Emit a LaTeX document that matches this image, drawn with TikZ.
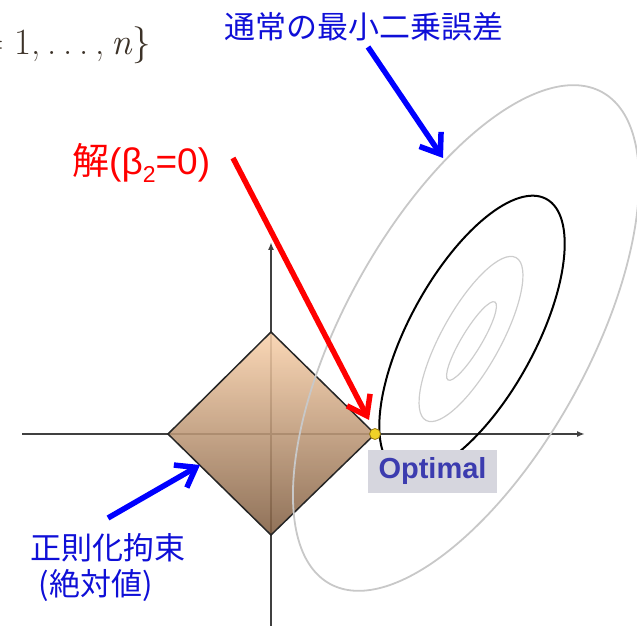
\documentclass[tikz,border=0pt]{standalone}
\usepackage{fontspec}
\newfontfamily\jp{Noto Sans CJK JP}
\newfontfamily\arialf{Liberation Sans}
\usetikzlibrary{arrows.meta}
\definecolor{dtop}{RGB}{250,210,172}
\definecolor{dbot}{RGB}{128,94,66}
\definecolor{lgray}{RGB}{200,200,200}
\definecolor{igray}{RGB}{205,205,205}
\definecolor{tblue}{RGB}{15,15,215}
\definecolor{optblue}{RGB}{60,60,175}
\definecolor{boxgray}{RGB}{214,214,222}
\definecolor{dotyel}{RGB}{240,210,40}
\definecolor{dotedge}{RGB}{150,120,20}
\definecolor{mathc}{RGB}{60,50,40}
\begin{document}
\begin{tikzpicture}[x=1pt,y=1pt,
  axisline/.style={draw=black!75, line width=1.6pt, -{Latex[length=8pt,width=6pt]}},
  diamondedge/.style={draw=black!85, line width=1.5pt, line join=miter},
  outerell/.style={draw=lgray, line width=1.8pt},
  innerell/.style={draw=igray, line width=1.2pt},
  blackell/.style={draw=black, line width=2pt},
  bigarrow/.style={line width=5.5pt, -{Straight Barb[length=18pt,width=26pt]}},
  jplabel/.style={font=\jp\fontsize{31}{36}\selectfont, text=tblue, inner sep=0pt},
]
\useasboundingbox (0,0) rectangle (637,626);
\clip (0,0) rectangle (637,626);

% top-left fragment of formula
\node[anchor=base east, inner sep=0pt, text=mathc] (idx) at (151,571)
  {\fontsize{37}{40}\selectfont =\hspace{0.28em}1,\hspace{0.18em}.\hspace{0.18em}.\hspace{0.18em}.\hspace{0.18em},\hspace{0.18em}\textit{n}\}};

% axes
\coordinate (xs) at (22,192);
\coordinate (xe) at (585,192);
\coordinate (ys) at (271,0);
\coordinate (ye) at (271,384);
\draw[axisline] (xs) -- (xe);
\draw[axisline] (ys) -- (ye);

% L1 diamond
\coordinate (dT) at (271,294);
\coordinate (dR) at (375,192);
\coordinate (dB) at (271,91);
\coordinate (dL) at (168,192);
\shade[top color=dtop, bottom color=dbot, fill opacity=0.88] (dT) -- (dR) -- (dB) -- (dL) -- cycle;
\draw[diamondedge] (dT) -- (dR) -- (dB) -- (dL) -- cycle;

% error contours
\draw[outerell, rotate around={61:(466,288)}] (466,288) ellipse [x radius=281, y radius=122];
\draw[innerell, rotate around={61:(471,287)}] (471,287) ellipse [x radius=93, y radius=29.5];
\draw[innerell, rotate around={59:(471.5,285)}] (471.5,285) ellipse [x radius=45.5, y radius=10];
\draw[blackell, rotate around={61.3:(472,291)}] (472,291) ellipse [x radius=155, y radius=63];

% Optimal label
\node[fill=boxgray, minimum width=129pt, minimum height=43pt, inner sep=0pt,
      font=\arialf\bfseries\fontsize{29}{30}\selectfont, text=optblue] (optlbl) at (432.5,154.5) {Optimal};

% optimum point
\node[circle, fill=dotyel, draw=dotedge, line width=0.8pt, minimum size=11pt, inner sep=0pt] (opt) at (375,192) {};

% labels
\node[jplabel] (ttl) at (363.5,599) {通常の最小二乗誤差};
\node[anchor=west, inner sep=0pt, text=red] (sol) at (72,463)
  {\fontsize{37}{40}\selectfont{\jp 解}{\arialf (β\raisebox{-0.22em}{\fontsize{23}{23}\selectfont 2}=0)}};
\node[jplabel] (reg1) at (107.5,78) {正則化拘束};
\node[jplabel] (reg2) at (95.5,41) {(絶対値)};

% arrows
\coordinate (rs) at (233,468);
\coordinate (rt) at (369,206);
\draw[bigarrow, red] (rs) -- (rt);
\coordinate (bs) at (368,579);
\coordinate (bt) at (443,468);
\draw[bigarrow, blue] (bs) -- (bt);
\coordinate (cs) at (108,108);
\coordinate (ct) at (200,161);
\draw[bigarrow, blue] (cs) -- (ct);
\end{tikzpicture}
\end{document}
